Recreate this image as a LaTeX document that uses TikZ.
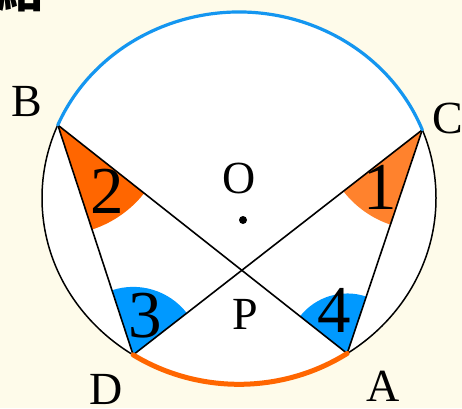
\documentclass[tikz,border=0pt]{standalone}
\usepackage{fontspec}
\setmainfont{Liberation Serif}
\newfontfamily\cjkfont{Noto Sans CJK TC}
\usetikzlibrary{positioning}
\definecolor{paper}{RGB}{254,251,234}
\definecolor{arcblue}{RGB}{20,150,240}
\definecolor{angblue}{RGB}{0,153,255}
\definecolor{angorange}{RGB}{255,102,0}
\definecolor{anglight}{RGB}{255,130,45}

\begin{document}
\begin{tikzpicture}[
  x=1pt, y=-1pt,
  letter/.style={inner sep=0pt, font=\fontsize{46}{46}\selectfont},
  num/.style={inner sep=0pt, font=\fontsize{67}{67}\selectfont},
  chord/.style={draw=black, line width=1.6pt},
  rim/.style={draw=black, line width=1.5pt},
  toparc/.style={draw=arcblue, line width=3.2pt, line cap=round},
  botarc/.style={draw=angorange, line width=5pt, line cap=round},
]
\fill[paper] (0,0) rectangle (462,408);
\useasboundingbox (0,0) rectangle (462,408);

\node[font=\cjkfont\bfseries\fontsize{48}{48}\selectfont, inner sep=0pt] (title) at (20,-11) {結};

\coordinate (O) at (239,198);
\fill[white] (O) ellipse [x radius=197, y radius=186];

\coordinate (B) at ([shift={(O)}]203.1:197 and 186);
\coordinate (C) at ([shift={(O)}]338.5:197 and 186);
\coordinate (D) at ([shift={(O)}]122.5:197 and 186);
\coordinate (A) at ([shift={(O)}]56.7:197 and 186);

% marked angles
\fill[angorange] (B) -- ++(38.3:110) arc[start angle=38.3, end angle=71.9, radius=110] -- cycle;
\fill[anglight] (C) -- ++(108.6:100) arc[start angle=108.6, end angle=142.1, radius=100] -- cycle;
\fill[angblue] (D) -- ++(251.9:68) arc[start angle=251.9, end angle=322.1, radius=68] -- cycle;
\fill[angblue] (A) -- ++(218.3:60) arc[start angle=218.3, end angle=288.6, radius=60] -- cycle;

\draw[rim] (O) ellipse [x radius=197, y radius=186];

\draw[chord] (B) -- (D);
\draw[chord] (B) -- (A);
\draw[chord] (C) -- (D);
\draw[chord] (C) -- (A);

\draw[toparc] (B) arc[start angle=203.1, end angle=338.5, x radius=197, y radius=186];
\draw[botarc] (D) arc[start angle=122.5, end angle=56.7, x radius=197, y radius=188];

\coordinate (Oc) at (243,220);
\fill[black] (Oc) circle [radius=4];

\node[letter] (lblB) at (27,102) {B};
\node[letter] (lblC) at (448,118) {C};
\node[letter] (lblD) at (106,389) {D};
\node[letter] (lblA) at (383,386) {A};
\node[letter] (lblO) at (239,178) {O};
\node[letter] (lblP) at (245,314) {P};

\node[num] (n1) at (380,187) {1};
\node[num] (n2) at (107,191) {2};
\node[num] (n3) at (145,316) {3};
\node[num] (n4) at (334,310) {4};
\end{tikzpicture}
\end{document}
